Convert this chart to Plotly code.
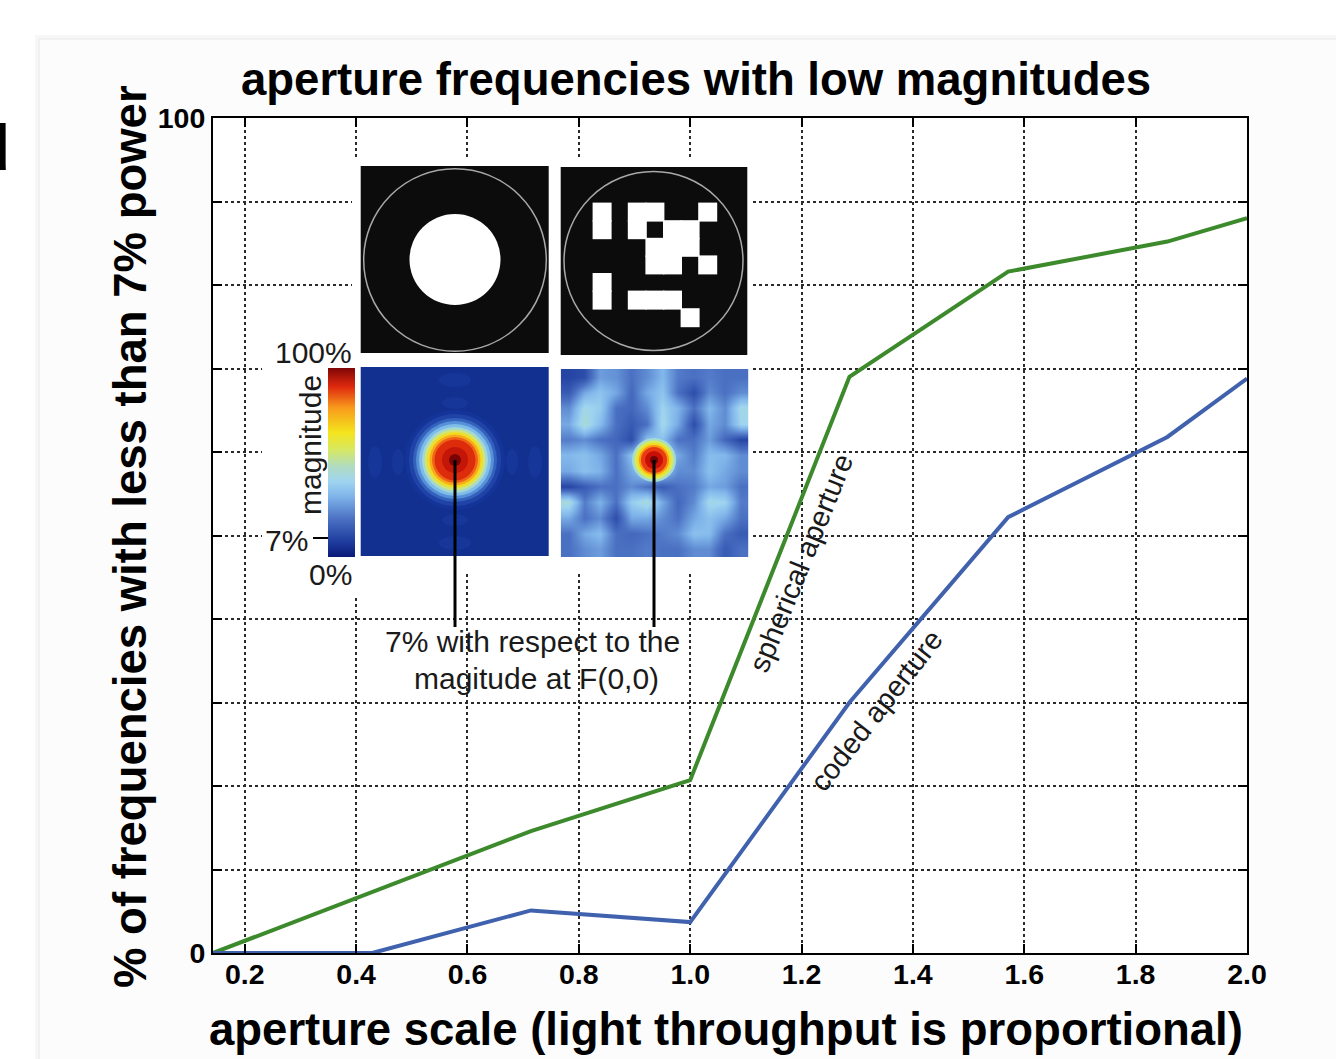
import plotly.graph_objects as go

# ---------------- data ----------------
aperture_scale = [0.143, 0.429, 0.714, 1.0, 1.286, 1.571, 1.857, 2.0]
spherical_pct = [0.0, 7.3, 14.6, 20.7, 69.0, 81.6, 85.2, 88.0]
coded_pct = [0.0, 0.0, 5.1, 3.7, 30.0, 52.2, 61.8, 68.8]

x_ticks = [0.2, 0.4, 0.6, 0.8, 1.0, 1.2, 1.4, 1.6, 1.8, 2.0]
x_ticktext = ["0.2", "0.4", "0.6", "0.8", "1.0", "1.2", "1.4", "1.6", "1.8", "2.0"]
y_ticks = [0, 10, 20, 30, 40, 50, 60, 70, 80, 90, 100]
y_ticktext = ["0", "", "", "", "", "", "", "", "", "", "100"]

# open cells (column, row) of the 7x7 coded aperture mask
coded_cells = [(0, 0), (0, 1), (0, 4), (0, 5), (2, 0), (3, 0), (2, 1), (6, 0),
               (4, 1), (5, 1), (3, 2), (4, 2), (5, 2), (3, 3), (4, 3), (6, 3),
               (2, 5), (3, 5), (4, 5), (5, 6)]

# coarse magnitude map of the coded aperture spectrum
coded_magnitude = [
    [0.10, 0.12, 0.28, 0.26, 0.20, 0.25, 0.33, 0.22, 0.20, 0.22, 0.20, 0.20],
    [0.15, 0.30, 0.36, 0.30, 0.18, 0.30, 0.36, 0.20, 0.12, 0.25, 0.20, 0.25],
    [0.25, 0.42, 0.38, 0.20, 0.18, 0.25, 0.40, 0.32, 0.20, 0.33, 0.25, 0.42],
    [0.30, 0.45, 0.34, 0.20, 0.15, 0.20, 0.42, 0.30, 0.12, 0.30, 0.25, 0.40],
    [0.22, 0.25, 0.20, 0.18, 0.12, 0.35, 0.35, 0.20, 0.20, 0.28, 0.18, 0.10],
    [0.33, 0.35, 0.30, 0.20, 0.35, 0.40, 0.40, 0.30, 0.22, 0.34, 0.33, 0.25],
    [0.30, 0.35, 0.32, 0.20, 0.30, 0.40, 0.38, 0.25, 0.25, 0.35, 0.30, 0.25],
    [0.10, 0.15, 0.20, 0.20, 0.25, 0.20, 0.15, 0.20, 0.22, 0.30, 0.28, 0.20],
    [0.44, 0.22, 0.32, 0.20, 0.38, 0.44, 0.30, 0.18, 0.25, 0.42, 0.40, 0.22],
    [0.30, 0.20, 0.25, 0.12, 0.30, 0.30, 0.25, 0.20, 0.30, 0.35, 0.30, 0.20],
    [0.20, 0.30, 0.34, 0.20, 0.18, 0.20, 0.22, 0.25, 0.35, 0.34, 0.20, 0.15],
    [0.20, 0.25, 0.28, 0.20, 0.20, 0.22, 0.20, 0.20, 0.25, 0.25, 0.15, 0.20],
]

magnitude_scale = [[0.0, '#0a1a78'], [0.08, '#1e3c9e'], [0.2, '#4a70c2'],
                   [0.32, '#7fb4ea'], [0.4, '#9fd4f0'], [0.48, '#b0dcc0'],
                   [0.57, '#d8e860'], [0.66, '#f4e41c'], [0.79, '#f89a1c'],
                   [0.9, '#e02a0e'], [1.0, '#800606']]

GREEN = '#3c8a2c'
BLUE = '#4061ad'
FONT = 'Liberation Sans, Arial, Helvetica, sans-serif'

# ---------------- geometry helpers (pixel -> axis/paper) ----------------
L, R, T, B = 213, 1247, 118, 953
X0, X1 = 0.143, 2.0


def dx(px):
    return X0 + (px - L) / (R - L) * (X1 - X0)


def dy(py):
    return (B - py) / (B - T) * 100


def ppx(px):
    return (px - L) / (R - L)


def ppy(py):
    return (B - py) / (B - T)


shapes = []


def rect(x0, y0, x1, y1, color, layer='above', line=None, ref='data'):
    if ref == 'data':
        d = dict(type='rect', xref='x', yref='y', x0=dx(x0), x1=dx(x1),
                 y0=dy(y1), y1=dy(y0))
    else:
        d = dict(type='rect', xref='paper', yref='paper', x0=ppx(x0), x1=ppx(x1),
                 y0=ppy(y1), y1=ppy(y0))
    d.update(fillcolor=color, layer=layer,
             line=dict(width=0) if line is None else line)
    shapes.append(d)


def circle(cx, cy, r, color, line=None, ry=None):
    ry = r if ry is None else ry
    shapes.append(dict(type='circle', xref='x', yref='y',
                       x0=dx(cx - r), x1=dx(cx + r), y0=dy(cy + ry), y1=dy(cy - ry),
                       fillcolor=color, layer='above',
                       line=dict(width=0) if line is None else line))


def seg(x0, y0, x1, y1, width=3, color='black'):
    shapes.append(dict(type='line', xref='x', yref='y', x0=dx(x0), x1=dx(x1),
                       y0=dy(y0), y1=dy(y1), layer='above',
                       line=dict(color=color, width=width)))


# page panel + soft shadow
rect(35, 35, 1400, 1100, '#f7f7f7', layer='below', ref='paper')
rect(38, 38, 1400, 1100, '#f1f1f1', layer='below', ref='paper')
rect(40, 40, 1400, 1100, '#fcfcfc', layer='below', ref='paper')
rect(L, T, R, B, '#ffffff', layer='below', ref='paper')

# white backing of the inset (hides grid)
rect(352, 158, 752, 572, '#ffffff', layer='between')
rect(262, 338, 360, 598, '#ffffff', layer='between')

# aperture masks
rect(360.7, 166, 548.7, 353, '#0c0c0c')
circle(455, 260, 91.3, 'rgba(0,0,0,0)', line=dict(color='#a8a8a8', width=1.5))
circle(455, 259.5, 45.5, '#ffffff')

rect(560.7, 167, 747.3, 355, '#0c0c0c')
circle(653.5, 261, 89.5, 'rgba(0,0,0,0)', line=dict(color='#a8a8a8', width=1.5))
cell = 17.6
ox, oy = 593.3, 203.3
for c, r_ in coded_cells:
    rect(ox + c * cell - 0.7, oy + r_ * cell - 0.7,
         ox + (c + 1) * cell + 0.7, oy + (r_ + 1) * cell + 0.7, '#ffffff')

# spherical aperture spectrum
rect(360.7, 367, 548.7, 556, '#11308f')
for ex, ey, rx, ry_ in [(375, 462, 7, 16), (535, 462, 7, 16), (398, 462, 6, 13),
                        (512, 462, 6, 13), (455, 380, 16, 7), (455, 543, 16, 7),
                        (455, 403, 13, 6), (455, 520, 13, 6)]:
    circle(ex, ey, rx, '#173699', ry=ry_)
for rad, col in [(50, '#15349a'), (46, '#1f43a6'), (42, '#3461bc'), (39, '#5690d8'),
                 (36, '#80bcea'), (33, '#a4d8d4'), (30.5, '#d0e478'), (28, '#f0de22'),
                 (25.5, '#f8aa1c'), (23, '#f06416'), (20.5, '#dc2c0c'), (13, '#c41608'),
                 (6, '#7a0404')]:
    circle(455, 460, rad, col)

# coded aperture spectrum centre peak
for rad, col in [(22, '#a6dcd0'), (19.5, '#d6ea5c'), (17, '#f4dc1c'), (15, '#f89818'),
                 (13, '#ea3a10'), (9, '#c81008'), (4, '#700404')]:
    circle(654, 460, rad, col)

# pointer lines and 7% marker
seg(455, 460, 455, 627)
seg(654, 460, 654, 627)
seg(313, 538, 355, 538, width=2)

# ---------------- figure ----------------
fig = go.Figure()
fig.add_trace(go.Scatter(x=aperture_scale, y=spherical_pct, mode='lines',
                         line=dict(color=GREEN, width=4), name='spherical aperture',
                         hoverinfo='skip'))
fig.add_trace(go.Scatter(x=aperture_scale, y=coded_pct, mode='lines',
                         line=dict(color=BLUE, width=4), name='coded aperture',
                         hoverinfo='skip'))
fig.add_trace(go.Heatmap(z=coded_magnitude, xaxis='x2', yaxis='y2', zmin=0, zmax=1,
                         zsmooth='best', colorscale=magnitude_scale, hoverinfo='skip',
                         colorbar=dict(x=ppx(328), xanchor='left', y=ppy(462.5),
                                       yanchor='middle', thickness=27, thicknessmode='pixels',
                                       len=189, lenmode='pixels', xpad=0, ypad=0,
                                       outlinewidth=0, showticklabels=False, ticks='')))

axis_common = dict(showgrid=True, gridcolor='#2a2a2a', griddash='dot', gridwidth=1.6,
                   ticks='inside', ticklen=9, tickwidth=2, tickcolor='black',
                   showline=True, linecolor='black', linewidth=2, mirror='ticks',
                   zeroline=False,
                   tickfont=dict(family=FONT, size=28.5, color='black', weight='bold'))

fig.update_layout(
    width=1336, height=1059, autosize=False,
    margin=dict(l=L, r=1336 - R, t=T, b=1059 - B, pad=0),
    paper_bgcolor='#ffffff', plot_bgcolor='#ffffff',
    showlegend=False, hovermode=False,
    xaxis=dict(range=[X0, X1], tickvals=x_ticks, ticktext=x_ticktext,
               ticklabelstandoff=-5, **axis_common),
    yaxis=dict(range=[0, 100], tickvals=y_ticks, ticktext=y_ticktext, **axis_common),
    xaxis2=dict(domain=[ppx(560.7), ppx(748.3)], anchor='y2', visible=False,
                range=[-0.5, 11.5]),
    yaxis2=dict(domain=[ppy(557), ppy(369)], anchor='x2', visible=False,
                range=[11.5, -0.5]),
    shapes=shapes,
)


def note(text, px, py, size, bold=False, angle=0, xanchor='center', color='black'):
    fig.add_annotation(text=text, xref='paper', yref='paper', x=ppx(px), y=ppy(py),
                       xanchor=xanchor, yanchor='middle', showarrow=False,
                       textangle=angle,
                       font=dict(family=FONT, size=size, color=color,
                                 weight='bold' if bold else 'normal'))


note('aperture frequencies with low magnitudes', 696, 80, 45.5, bold=True)
note('aperture scale (light throughput is proportional)', 726, 1029, 45.5, bold=True)
note('% of frequencies with less than 7% power', 130, 537, 45.5, bold=True, angle=-90)
note('d', 12, 148, 64, bold=True, xanchor='right')

note('100%', 354, 352, 30, xanchor='right', color='#1a1a1a')
note('0%', 354, 574, 30, xanchor='right', color='#1a1a1a')
note('7%', 310, 540, 30, xanchor='right', color='#1a1a1a')
note('magnitude', 310, 445, 30, angle=-90, color='#1a1a1a')
note('7% with respect to the', 532, 641, 30, color='#1a1a1a')
note('magitude at F(0,0)', 536, 678, 30, color='#1a1a1a')
note('spherical aperture', 801, 563, 29, angle=-68, color='#1a1a1a')
note('coded aperture', 876, 711, 29, angle=-52, color='#1a1a1a')

fig.write_html('out.html', config={'displayModeBar': False},
               post_script="document.body.style.margin='0px';")
